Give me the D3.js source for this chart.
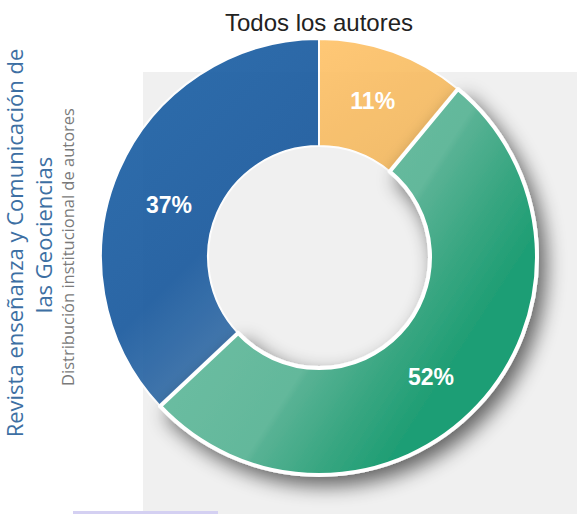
<!DOCTYPE html>
<html>
<head>
<meta charset="utf-8">
<script src="https://cdn.jsdelivr.net/npm/d3@7"></script>
<style>
  body { margin: 0; background: #fff; }
  svg { display: block; }
</style>
</head>
<body>
<div id="chart"></div>
<script>
// donut data
const categories = ["Institución A", "Institución B", "Institución C"];
const values = [11, 52, 37];
const labels = ["11%", "52%", "37%"];
const highlighted = 1;

const width = 577, height = 514;
const cx = 319, cy = 257;
const outerR = 218, innerR = 111;

const svg = d3.select("#chart").append("svg")
    .attr("width", width)
    .attr("height", height);

let defs = svg.append("defs");

// soft shadow for the selected slice
let shadow = defs.append("filter").attr("id", "shadow")
    .attr("x", "-30%").attr("y", "-30%").attr("width", "160%").attr("height", "160%");
shadow.append("feGaussianBlur").attr("in", "SourceAlpha").attr("stdDeviation", 10);
shadow.append("feOffset").attr("dx", 7).attr("dy", 9).attr("result", "blur");
shadow.append("feComponentTransfer").append("feFuncA").attr("type", "linear").attr("slope", 0.6);
let merge = shadow.append("feMerge");
merge.append("feMergeNode");
merge.append("feMergeNode").attr("in", "SourceGraphic");

// gradients (light sheen on each slice), in donut coordinates
const grads = [
    {id: "gOrange", stops: [["0%", "#ffc46b"], ["100%", "#f0b55d"]], p: [0, -220, 100, -60]},
    {id: "gGreen", stops: [["0%", "#74c3a9"], ["55%", "#63b89b"], ["56.5%", "#58b294"], ["70%", "#38a681"], ["82%", "#1f9e74"], ["100%", "#1f9e74"]],
        p: [-168, -109, 210, 136]},
    {id: "gBlue", stops: [["0%", "#1c5fa3"], ["55%", "#1a5a9e"], ["100%", "#3a71a9"]], p: [-220, -80, -60, 80]}
];
grads.forEach(g => {
    let lg = defs.append("linearGradient").attr("id", g.id)
        .attr("gradientUnits", "userSpaceOnUse")
        .attr("x1", g.p[0]).attr("y1", g.p[1]).attr("x2", g.p[2]).attr("y2", g.p[3]);
    g.stops.forEach(s => lg.append("stop").attr("offset", s[0]).attr("stop-color", s[1]));
});
const fills = ["url(#gOrange)", "url(#gGreen)", "url(#gBlue)"];

// grey panel behind the donut
svg.append("rect").attr("x", 143).attr("y", 72)
    .attr("width", width - 143).attr("height", height - 72)
    .attr("fill", "#f0f0f0");
svg.append("rect").attr("x", 73).attr("y", 511)
    .attr("width", 145).attr("height", 3)
    .attr("fill", "#d4d0f2");

const pie = d3.pie().sort(null).value(d => d);
const arcs = pie(values);
const arc = d3.arc().innerRadius(innerR).outerRadius(outerR);
const labelArc = d3.arc().innerRadius(innerR).outerRadius(outerR);

let g = svg.append("g").attr("transform", `translate(${cx},${cy})`);

g.selectAll("path.slice")
    .data(arcs)
    .enter().append("path")
    .attr("class", "slice")
    .attr("d", (d, i) => i === highlighted ? null : arc(d))
    .attr("fill", (d, i) => fills[i])
    .attr("opacity", 0.92)
    .attr("stroke", "#fff")
    .attr("stroke-width", 2);

// selected slice on top
g.append("path")
    .datum(arcs[highlighted])
    .attr("d", arc)
    .attr("fill", fills[highlighted])
    .attr("stroke", "#fff")
    .attr("stroke-width", 4)
    .attr("stroke-linejoin", "round")
    .attr("filter", "url(#shadow)");

// small nudges so labels sit where the original put them
const labelNudge = [[-2, -1], [-8, 7], [1, 13]];
g.selectAll("text.pct")
    .data(arcs)
    .enter().append("text")
    .attr("class", "pct")
    .attr("transform", (d, i) => {
        let c = labelArc.centroid(d);
        return `translate(${c[0] + labelNudge[i][0]},${c[1] + labelNudge[i][1]})`;
    })
    .attr("text-anchor", "middle")
    .attr("dy", "0.35em")
    .attr("fill", "#fff")
    .style("font-family", "Liberation Sans, Arial, sans-serif")
    .style("font-weight", "bold")
    .style("font-size", "23px")
    .text((d, i) => labels[i]);

// title
svg.append("text")
    .attr("x", cx).attr("y", 31)
    .attr("text-anchor", "middle")
    .attr("fill", "#222")
    .style("font-family", "Liberation Sans, Arial, sans-serif")
    .style("font-size", "24px")
    .text("Todos los autores");

// rotated side titles
let side = svg.append("g").attr("transform", "translate(0,243) rotate(-90)");
side.append("text").attr("x", 0).attr("y", 23)
    .attr("text-anchor", "middle").attr("fill", "#3d6fa3")
    .style("font-family", "Open Sans, sans-serif").style("font-size", "22px")
    .text("Revista enseñanza y Comunicación de");
side.append("text").attr("x", 8).attr("y", 52)
    .attr("text-anchor", "middle").attr("fill", "#3d6fa3")
    .style("font-family", "Open Sans, sans-serif").style("font-size", "22px")
    .text("las Geociencias");
side.append("text").attr("x", -4).attr("y", 74)
    .attr("text-anchor", "middle").attr("fill", "#7a7a7a")
    .style("font-family", "Open Sans, sans-serif").style("font-size", "16.5px")
    .text("Distribución institucional de autores");
</script>
</body>
</html>
